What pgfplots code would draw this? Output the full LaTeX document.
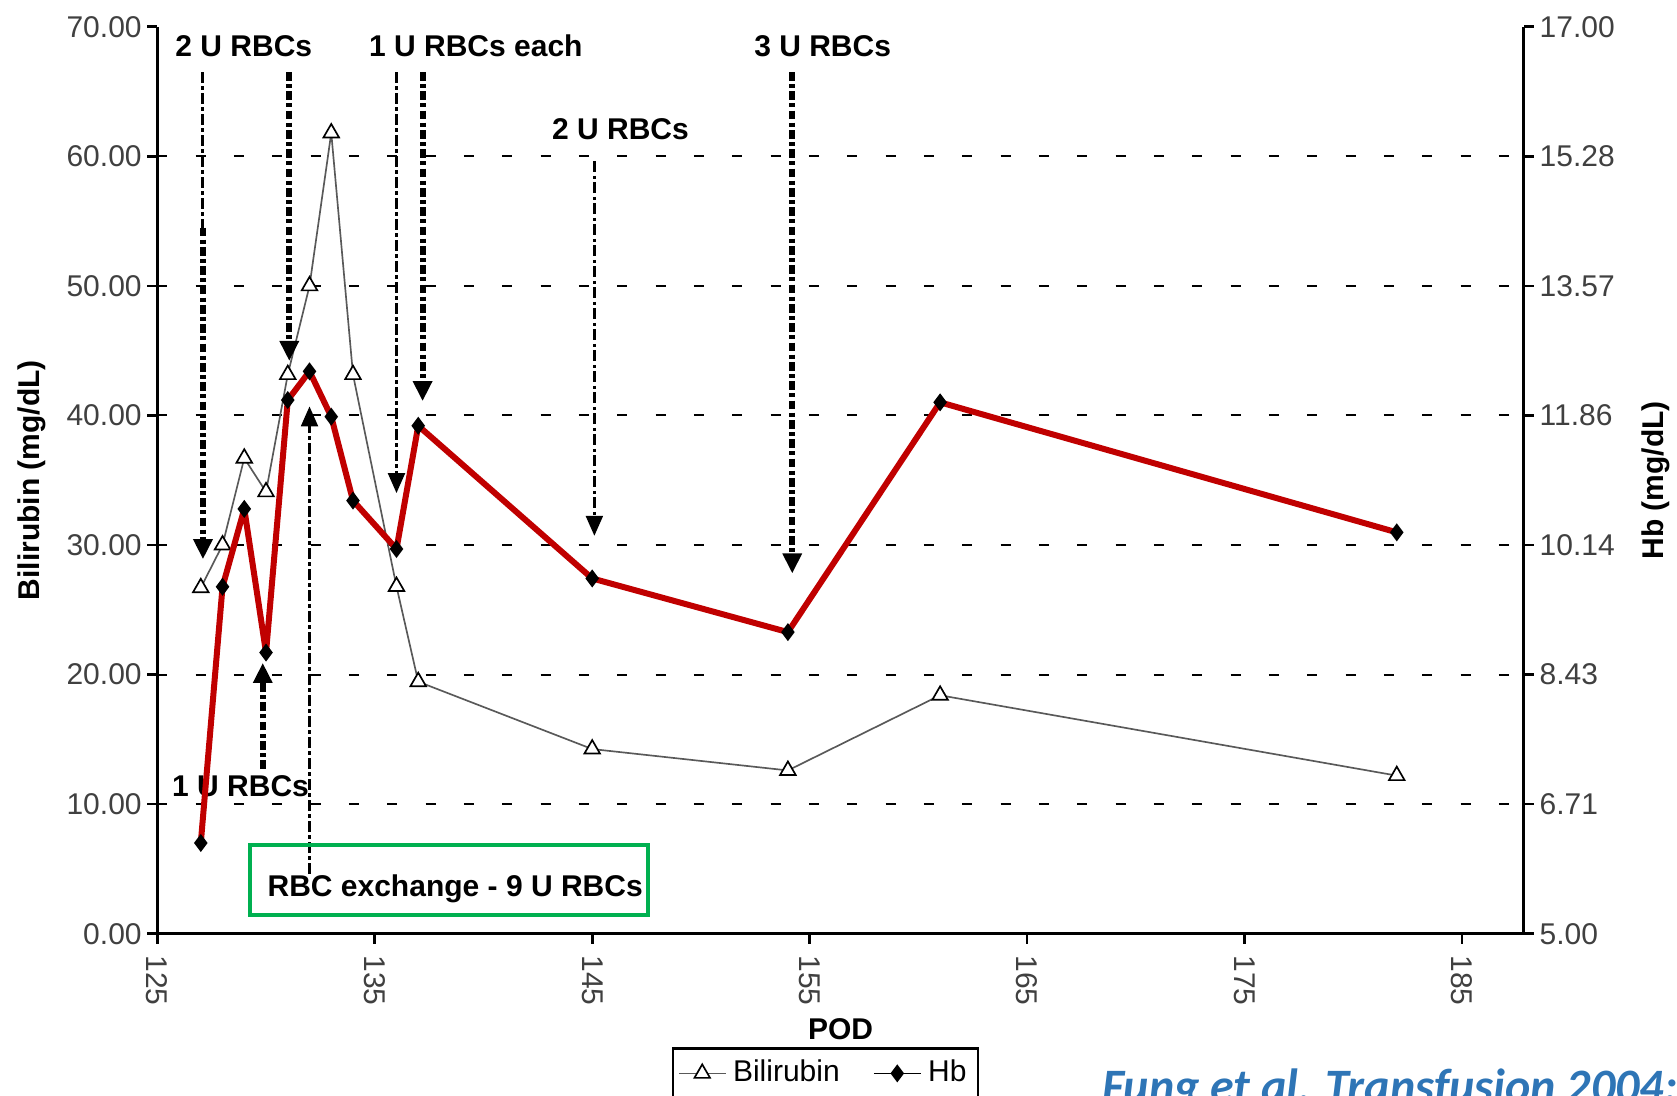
\documentclass[border=0pt]{standalone}
\usepackage{pgfplots}
\pgfplotsset{compat=1.18}
\usepackage{pgfplotstable}
\usepackage{fontspec}
\setmainfont{Liberation Sans}
\newfontfamily\calib{Carlito}
\usetikzlibrary{arrows.meta}
\definecolor{hbred}{RGB}{192,0,0}
\definecolor{boxgreen}{RGB}{0,176,80}
\definecolor{citeblue}{RGB}{46,117,182}

\pgfplotstableread{
x y
127 26.7
128 30.0
129 36.7
130 34.1
131 43.15
132 50.0
133 61.8
134 43.15
136 26.8
137 19.45
145 14.25
154 12.6
161 18.4
182 12.2
}\bili

\pgfplotstableread{
x y
127 6.20
128 9.59
129 10.62
130 8.72
131 12.06
132 12.44
133 11.84
134 10.73
136 10.09
137 11.72
145 9.70
154 8.99
161 12.03
182 10.31
}\hb

\tikzset{
  arrthin/.style={black, line width=0.9pt, dash pattern=on 3.3pt off 1pt on 1pt off 1pt, -{Triangle[width=5pt,length=6pt]}},
  arrthick/.style={black, line width=1.8pt, dash pattern=on 2.6pt off 1pt on 1.2pt off 1pt, -{Triangle[width=5.5pt,length=6pt]}},
  bilistyle/.style={black!65, line width=0.5pt, mark=triangle*, mark size=2.7pt, mark options={fill=white, draw=black, solid, line width=0.5pt}},
  hbstyle/.style={black, line width=0.5pt, mark=diamond*, mark size=2.3pt, mark options={fill=black, solid}},
}

\pgfplotsset{
  common/.style={
    at={(47.19pt,48.69pt)}, anchor=south west,
    width=410pt, height=272.1pt, scale only axis,
    xmin=125, xmax=187.85,
    tick align=outside,
    major tick length=3pt,
    tick style={black, line width=0.8pt},
    axis line style={black, line width=0.9pt, -},
    tick label style={font=\fontsize{9}{10.8}\selectfont, text=black!75},
    /pgf/number format/assume math mode=true,
  }
}

\begin{document}
\begin{tikzpicture}[font=\fontsize{9}{10.8}\selectfont]
\useasboundingbox (0,0) rectangle (503.1pt,328.8pt);
\clip (0,0) rectangle (503.1pt,328.8pt);

\begin{axis}[common,
  ymin=0, ymax=70,
  axis x line*=bottom, axis y line*=left,
  xtick={125,135,...,185},
  xticklabel style={rotate=-90, anchor=west},
  ytick={0,10,...,70},
  yticklabels={0.00,10.00,20.00,30.00,40.00,50.00,60.00,70.00},
  yticklabel style={inner sep=1.5pt},
  extra y ticks={10,20,30,40,50,60},
  extra y tick labels={},
  extra y tick style={grid=major, major tick length=0pt},
  grid style={black, line width=0.6pt, dash pattern=on 3pt off 8.5pt},
  xlabel={\bfseries POD},
  xlabel style={at={(axis description cs:0.5,0)}, anchor=center, yshift=-28.6pt},
  ylabel={\bfseries Bilirubin (mg/dL)},
  ylabel style={at={(axis description cs:-0.0917,0.5)}, anchor=center},
  clip=false,
]
\addplot[bilistyle] table {\bili};

% transfusion arrows
\draw[arrthin, -] (axis cs:127.1,66.5) -- (axis cs:127.1,54.5);
\draw[arrthick] (axis cs:127.1,54.5) -- (axis cs:127.1,28.9);
\draw[arrthick] (axis cs:131.07,66.5) -- (axis cs:131.07,44.2);
\draw[arrthin] (axis cs:136.0,66.5) -- (axis cs:136.0,34.0);
\draw[arrthick] (axis cs:137.2,66.5) -- (axis cs:137.2,41.1);
\draw[arrthin] (axis cs:145.1,59.6) -- (axis cs:145.1,30.7);
\draw[arrthick] (axis cs:154.2,66.5) -- (axis cs:154.2,27.8);
\draw[arrthick] (axis cs:129.85,12.7) -- (axis cs:129.85,20.9);
\draw[arrthin] (axis cs:132.0,4.6) -- (axis cs:132.0,40.7);

\node[font=\fontsize{9}{10.8}\selectfont\bfseries] at (axis cs:128.98,68.5) {2 U RBCs};
\node[font=\fontsize{9}{10.8}\selectfont\bfseries] at (axis cs:139.65,68.5) {1 U RBCs each};
\node[font=\fontsize{9}{10.8}\selectfont\bfseries] at (axis cs:146.3,62.1) {2 U RBCs};
\node[font=\fontsize{9}{10.8}\selectfont\bfseries] at (axis cs:155.6,68.5) {3 U RBCs};
\node[font=\fontsize{9}{10.8}\selectfont\bfseries] at (axis cs:128.83,11.35) {1 U RBCs};

\draw[boxgreen, line width=1.2pt] (axis cs:129.26,6.83) rectangle (axis cs:147.56,1.45);
\node[font=\fontsize{9}{10.8}\selectfont\bfseries] at (axis cs:138.7,3.45) {RBC exchange - 9 U RBCs};
\end{axis}

\begin{axis}[common,
  ymin=5, ymax=17,
  hide x axis,
  axis y line*=right,
  ytick={5,6.7142857,8.4285714,10.1428571,11.8571429,13.5714286,15.2857143,17},
  yticklabels={5.00,6.71,8.43,10.14,11.86,13.57,15.28,17.00},
  yticklabel style={inner sep=1.5pt},
  ylabel={\bfseries Hb (mg/dL)},
  ylabel style={at={(axis description cs:1.0963,0.5)}, anchor=center},
  legend columns=2,
  legend style={at={(axis description cs:0.489,0)}, anchor=center, yshift=-41.9pt,
    draw=black, line width=0.8pt, font=\fontsize{9}{10.8}\selectfont,
    inner sep=1.5pt, /tikz/every even column/.append style={column sep=8pt}},
  legend image code/.code={\draw[mark repeat=2,mark phase=2,#1] plot coordinates {(0pt,0pt) (7pt,0pt) (14pt,0pt)};},
]
\addlegendimage{bilistyle}
\addlegendentry{Bilirubin}
\addplot[hbstyle] table {\hb};
\addlegendentry{Hb}
\addplot[hbred, line width=1.8pt, line join=round, forget plot] table {\hb};
\end{axis}

\node[anchor=base west, inner sep=0pt, font=\calib\fontsize{14.4}{16}\selectfont\bfseries\itshape, text=citeblue] at (330.5pt,-2.1pt) {Fung et al. Transfusion 2004;};
\end{tikzpicture}
\end{document}
